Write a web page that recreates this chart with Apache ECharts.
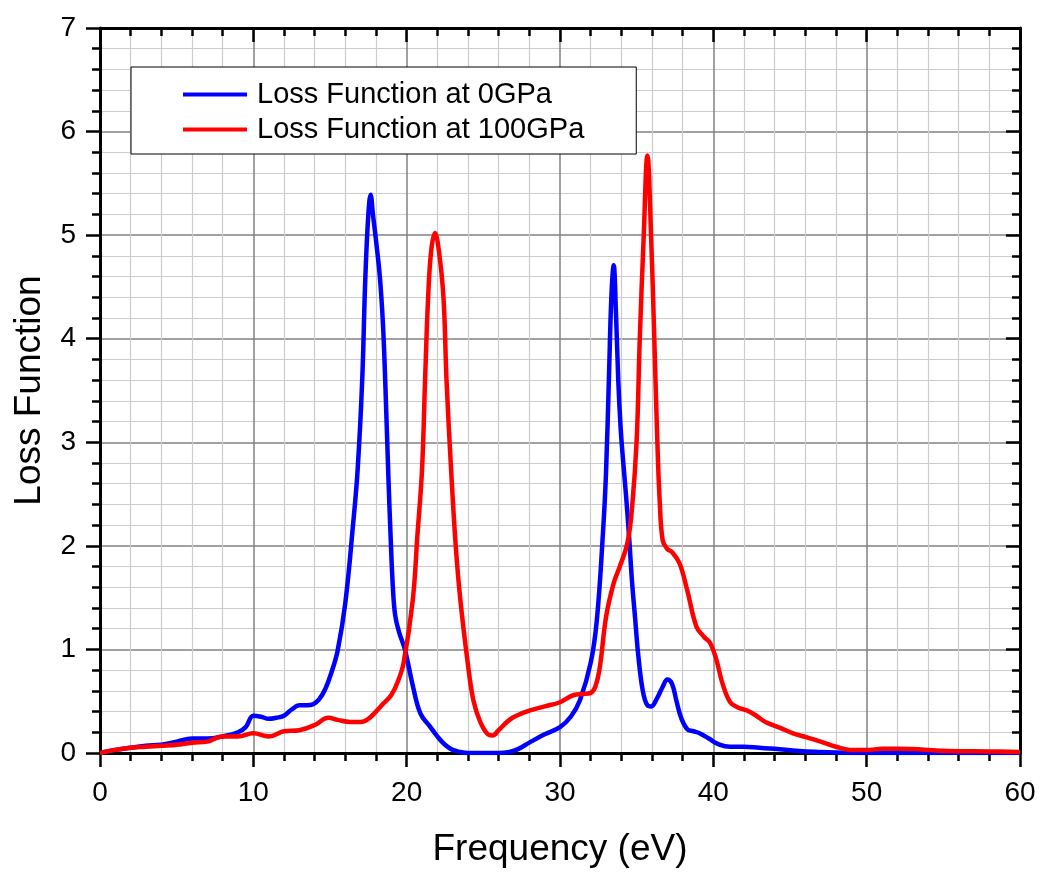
<!DOCTYPE html>
<html>
<head>
<meta charset="utf-8">
<script src="https://cdn.jsdelivr.net/npm/echarts@6/dist/echarts.min.js"></script>
<style>html,body{margin:0;padding:0;background:#fff}#c{width:1043px;height:874px}</style>
</head>
<body>
<div id="c"></div>
<script>
const seriesNames = ['Loss Function at 0GPa', 'Loss Function at 100GPa'];
const xAxisTitle = 'Frequency (eV)';
const yAxisTitle = 'Loss Function';

const blueX = [0,1,2,3,4,5,6,7,8,9,9.5,10,10.5,11,11.5,12,12.5,13,13.5,13.9,14.3,14.7,15.1,15.5,16,16.5,16.8,17.1,17.3,17.5,17.65,17.8,18,18.25,18.45,18.6,18.8,18.95,19.1,19.25,19.5,19.9,20.4,20.9,21.5,22,22.5,23,23.5,24,25,26,26.7,27.3,28,29,30,30.7,31.3,32,32.4,32.8,33,33.2,33.35,33.5,33.65,33.8,33.95,34.1,34.3,34.5,34.7,34.9,35.1,35.4,35.7,35.95,36.3,36.7,37,37.3,37.6,37.9,38.3,38.7,39.1,39.7,40.4,41.1,42,43,44,45.6,47,48,50,55,60];
const blueY = [0,0.03,0.05,0.07,0.08,0.11,0.14,0.14,0.16,0.2,0.25,0.36,0.35,0.33,0.34,0.36,0.42,0.46,0.46,0.47,0.52,0.62,0.78,0.99,1.45,2.2,2.73,3.6,4.57,5.2,5.39,5.2,4.95,4.6,4.15,3.6,2.7,2.1,1.6,1.33,1.17,0.99,0.65,0.38,0.26,0.16,0.08,0.03,0.01,0,0,0,0.01,0.04,0.1,0.18,0.25,0.35,0.51,0.87,1.28,2.12,2.7,3.67,4.4,4.71,4.25,3.6,3.15,2.85,2.5,2.1,1.65,1.3,0.95,0.6,0.46,0.45,0.52,0.64,0.71,0.67,0.5,0.34,0.23,0.21,0.19,0.14,0.08,0.06,0.06,0.05,0.04,0.02,0.01,0.005,0,0,0];

const redX = [0,1,2,3,4,5,6,7,7.5,8,9,10,11,12,13,14,14.9,15.5,16.3,17,17.5,18,18.5,19,19.4,19.8,20.4,20.7,21,21.2,21.4,21.6,21.85,22.1,22.4,22.6,22.9,23.2,23.5,24,24.35,24.8,25.3,25.6,26,26.7,27.3,28,29,30,30.9,31.5,32,32.3,32.6,33,33.5,33.9,34.4,34.7,35,35.2,35.45,35.7,35.95,36.15,36.35,36.5,36.7,37,37.3,37.8,38.3,38.9,39.4,39.8,40.2,40.6,41.1,41.6,42.2,42.8,43.4,44.4,45.2,46.1,47,48,48.9,50,51,52,55.4,58,60];
const redY = [0,0.03,0.05,0.06,0.07,0.08,0.1,0.11,0.14,0.16,0.16,0.19,0.16,0.21,0.22,0.27,0.34,0.32,0.3,0.3,0.33,0.4,0.48,0.56,0.68,0.87,1.48,2.1,2.73,3.6,4.4,4.85,5.02,4.85,4.4,3.6,2.73,2.0,1.48,0.85,0.51,0.3,0.18,0.17,0.22,0.32,0.37,0.41,0.45,0.49,0.56,0.57,0.58,0.64,0.83,1.31,1.64,1.8,2.03,2.37,3.02,3.99,4.95,5.77,4.95,4.0,3.0,2.44,2.05,1.97,1.94,1.83,1.57,1.22,1.12,1.06,0.9,0.67,0.49,0.44,0.41,0.36,0.3,0.24,0.19,0.15,0.11,0.06,0.03,0.03,0.04,0.04,0.02,0.015,0.01];

const xMin = 0, xMax = 60, xStep = 10;
const yMin = 0, yMax = 7, yStep = 1;

const pairs = (xs, ys) => xs.map((x, i) => [x, ys[i]]);
const FONT = "'Liberation Sans', Arial, sans-serif";

const chart = echarts.init(document.getElementById('c'), null, {renderer: 'canvas'});
const baseX = {type: 'value', min: xMin, max: xMax, interval: xStep};
const baseY = {type: 'value', min: yMin, max: yMax, interval: yStep};
chart.setOption({
  animation: false,
  backgroundColor: '#fff',
  grid: {left: 100, right: 23, top: 28, bottom: 121},
  legend: {
    orient: 'vertical', left: 131, top: 67,
    padding: [13, 52, 10, 52], itemGap: 6,
    backgroundColor: '#fff', borderColor: '#000', borderWidth: 1,
    icon: 'rect', itemWidth: 64, itemHeight: 4,
    textStyle: {fontFamily: FONT, fontSize: 29, color: '#000', padding: [0, 0, 0, 5]},
    data: seriesNames
  },
  xAxis: [
    Object.assign({}, baseX, {
      position: 'bottom',
      name: xAxisTitle, nameLocation: 'middle', nameGap: 78,
      nameTextStyle: {fontFamily: FONT, fontSize: 37, color: '#000'},
      axisLine: {show: true, onZero: false, lineStyle: {color: '#000', width: 3}},
      axisTick: {show: true, inside: false, length: 14, lineStyle: {color: '#000', width: 2.5}},
      minorTick: {show: true, splitNumber: 5, length: 8, lineStyle: {color: '#000', width: 2.5}},
      axisLabel: {fontFamily: FONT, fontSize: 28, color: '#000', margin: 26},
      splitLine: {show: true, lineStyle: {color: '#828282', width: 1.5}},
      minorSplitLine: {show: true, lineStyle: {color: '#cccccc', width: 1.2}}
    }),
    Object.assign({}, baseX, {
      position: 'top',
      axisLine: {show: true, onZero: false, lineStyle: {color: '#000', width: 3}},
      axisTick: {show: true, inside: true, length: 14, lineStyle: {color: '#000', width: 2.5}},
      minorTick: {show: true, splitNumber: 5, length: 8, lineStyle: {color: '#000', width: 2.5}},
      axisLabel: {show: false},
      splitLine: {show: false}
    })
  ],
  yAxis: [
    Object.assign({}, baseY, {
      position: 'left',
      name: yAxisTitle, nameLocation: 'middle', nameGap: 52,
      nameTextStyle: {fontFamily: FONT, fontSize: 37, color: '#000'},
      axisLine: {show: true, onZero: false, lineStyle: {color: '#000', width: 3}},
      axisTick: {show: true, inside: false, length: 14, lineStyle: {color: '#000', width: 2.5}},
      minorTick: {show: true, splitNumber: 5, length: 8, lineStyle: {color: '#000', width: 2.5}},
      axisLabel: {fontFamily: FONT, fontSize: 28, color: '#000', margin: 24},
      splitLine: {show: true, lineStyle: {color: '#828282', width: 1.5}},
      minorSplitLine: {show: true, lineStyle: {color: '#cccccc', width: 1.2}}
    }),
    Object.assign({}, baseY, {
      position: 'right',
      axisLine: {show: true, onZero: false, lineStyle: {color: '#000', width: 3}},
      axisTick: {show: true, inside: true, length: 14, lineStyle: {color: '#000', width: 2.5}},
      minorTick: {show: true, splitNumber: 5, length: 8, lineStyle: {color: '#000', width: 2.5}},
      axisLabel: {show: false},
      splitLine: {show: false}
    })
  ],
  series: [
    {name: seriesNames[0], type: 'line', xAxisIndex: 0, yAxisIndex: 0, data: pairs(blueX, blueY),
     symbol: 'none', smooth: 0.4, color: '#0000ff', lineStyle: {color: '#0000ff', width: 4.5}, z: 3},
    {name: seriesNames[1], type: 'line', xAxisIndex: 0, yAxisIndex: 0, data: pairs(redX, redY),
     symbol: 'none', smooth: 0.4, color: '#ff0000', lineStyle: {color: '#ff0000', width: 4.5}, z: 4}
  ]
});
</script>
</body>
</html>
